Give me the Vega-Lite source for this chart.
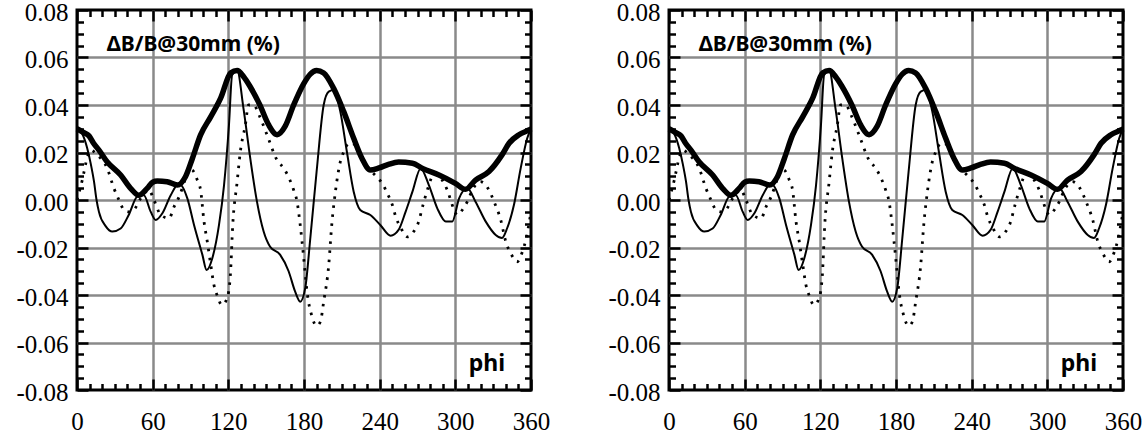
{
  "$schema": "https://vega.github.io/schema/vega-lite/v6.json",
  "padding": {"left": 14, "top": -2, "right": 5, "bottom": 2},
  "background": "white",
  "config": {
    "view": {"stroke": "black", "strokeWidth": 3},
    "concat": {"spacing": 138},
    "axis": {"labelFont": "Liberation Serif", "labelFontSize": 25, "labelColor": "black", "tickColor": "black", "tickWidth": 2.5, "gridColor": "#8a8a8a", "gridWidth": 2.5, "domain": false, "title": null, "labelOverlap": false, "labelFlush": false, "labelBound": false},
    "text": {"font": "Noto Sans"}
  },
  "bounds": "flush",
  "datasets": {
    "curves": [
      {"series": "thick", "phi": 0, "dB": 0.030},
      {"series": "thick", "phi": 5, "dB": 0.0285},
      {"series": "thick", "phi": 9.5, "dB": 0.027},
      {"series": "thick", "phi": 13, "dB": 0.024},
      {"series": "thick", "phi": 17.4, "dB": 0.021},
      {"series": "thick", "phi": 24, "dB": 0.016},
      {"series": "thick", "phi": 34.6, "dB": 0.0105},
      {"series": "thick", "phi": 42.5, "dB": 0.0049},
      {"series": "thick", "phi": 49, "dB": 0.002},
      {"series": "thick", "phi": 55.8, "dB": 0.005},
      {"series": "thick", "phi": 60, "dB": 0.0075},
      {"series": "thick", "phi": 63.7, "dB": 0.008},
      {"series": "thick", "phi": 71.4, "dB": 0.0077},
      {"series": "thick", "phi": 79.6, "dB": 0.0063},
      {"series": "thick", "phi": 86, "dB": 0.0098},
      {"series": "thick", "phi": 91.5, "dB": 0.0175},
      {"series": "thick", "phi": 98, "dB": 0.0274},
      {"series": "thick", "phi": 106, "dB": 0.035},
      {"series": "thick", "phi": 114, "dB": 0.043},
      {"series": "thick", "phi": 121.8, "dB": 0.0535},
      {"series": "thick", "phi": 127, "dB": 0.0545},
      {"series": "thick", "phi": 132, "dB": 0.052},
      {"series": "thick", "phi": 137, "dB": 0.048},
      {"series": "thick", "phi": 145, "dB": 0.040},
      {"series": "thick", "phi": 152, "dB": 0.0316},
      {"series": "thick", "phi": 158.6, "dB": 0.0275},
      {"series": "thick", "phi": 165, "dB": 0.031},
      {"series": "thick", "phi": 171.8, "dB": 0.040},
      {"series": "thick", "phi": 179.8, "dB": 0.049},
      {"series": "thick", "phi": 185, "dB": 0.053},
      {"series": "thick", "phi": 190, "dB": 0.0545},
      {"series": "thick", "phi": 195.6, "dB": 0.0535},
      {"series": "thick", "phi": 203.5, "dB": 0.047},
      {"series": "thick", "phi": 211.5, "dB": 0.0372},
      {"series": "thick", "phi": 219.4, "dB": 0.026},
      {"series": "thick", "phi": 226, "dB": 0.0175},
      {"series": "thick", "phi": 232.6, "dB": 0.0126},
      {"series": "thick", "phi": 239.5, "dB": 0.0135},
      {"series": "thick", "phi": 247, "dB": 0.015},
      {"series": "thick", "phi": 255, "dB": 0.016},
      {"series": "thick", "phi": 266, "dB": 0.0155},
      {"series": "thick", "phi": 274, "dB": 0.0133},
      {"series": "thick", "phi": 287, "dB": 0.0105},
      {"series": "thick", "phi": 300, "dB": 0.007},
      {"series": "thick", "phi": 308, "dB": 0.0045},
      {"series": "thick", "phi": 316, "dB": 0.0084},
      {"series": "thick", "phi": 326.7, "dB": 0.012},
      {"series": "thick", "phi": 337, "dB": 0.019},
      {"series": "thick", "phi": 342.6, "dB": 0.0239},
      {"series": "thick", "phi": 350.5, "dB": 0.0275},
      {"series": "thick", "phi": 358.4, "dB": 0.0295},
      {"series": "thick", "phi": 360, "dB": 0.030},

      {"series": "solid", "phi": 0, "dB": 0.030},
      {"series": "solid", "phi": 4, "dB": 0.028},
      {"series": "solid", "phi": 8, "dB": 0.022},
      {"series": "solid", "phi": 11, "dB": 0.015},
      {"series": "solid", "phi": 13.5, "dB": 0.0077},
      {"series": "solid", "phi": 15.5, "dB": 0.0},
      {"series": "solid", "phi": 17.4, "dB": -0.005},
      {"series": "solid", "phi": 22.7, "dB": -0.011},
      {"series": "solid", "phi": 28, "dB": -0.0133},
      {"series": "solid", "phi": 34.6, "dB": -0.012},
      {"series": "solid", "phi": 41, "dB": -0.0063},
      {"series": "solid", "phi": 47.8, "dB": 0.0014},
      {"series": "solid", "phi": 53, "dB": 0.002},
      {"series": "solid", "phi": 58.4, "dB": -0.0049},
      {"series": "solid", "phi": 62.4, "dB": -0.0084},
      {"series": "solid", "phi": 67.7, "dB": -0.0056},
      {"series": "solid", "phi": 74.3, "dB": 0.002},
      {"series": "solid", "phi": 80.9, "dB": 0.007},
      {"series": "solid", "phi": 87.5, "dB": 0.0007},
      {"series": "solid", "phi": 92.8, "dB": -0.0105},
      {"series": "solid", "phi": 99.4, "dB": -0.023},
      {"series": "solid", "phi": 102.8, "dB": -0.0295},
      {"series": "solid", "phi": 107.3, "dB": -0.0245},
      {"series": "solid", "phi": 112.6, "dB": -0.0105},
      {"series": "solid", "phi": 116.6, "dB": 0.0063},
      {"series": "solid", "phi": 120.5, "dB": 0.0316},
      {"series": "solid", "phi": 123, "dB": 0.0526},
      {"series": "solid", "phi": 127, "dB": 0.0545},
      {"series": "solid", "phi": 132, "dB": 0.0386},
      {"series": "solid", "phi": 137.4, "dB": 0.0175},
      {"series": "solid", "phi": 142.7, "dB": -0.0007},
      {"series": "solid", "phi": 148, "dB": -0.0133},
      {"series": "solid", "phi": 153, "dB": -0.0196},
      {"series": "solid", "phi": 161, "dB": -0.023},
      {"series": "solid", "phi": 167.8, "dB": -0.030},
      {"series": "solid", "phi": 173, "dB": -0.0386},
      {"series": "solid", "phi": 177, "dB": -0.0428},
      {"series": "solid", "phi": 181, "dB": -0.037},
      {"series": "solid", "phi": 185, "dB": -0.0161},
      {"series": "solid", "phi": 190, "dB": 0.012},
      {"series": "solid", "phi": 195.6, "dB": 0.040},
      {"series": "solid", "phi": 199.6, "dB": 0.0456},
      {"series": "solid", "phi": 203.5, "dB": 0.0463},
      {"series": "solid", "phi": 208.8, "dB": 0.0372},
      {"series": "solid", "phi": 214, "dB": 0.0203},
      {"series": "solid", "phi": 219.4, "dB": 0.0035},
      {"series": "solid", "phi": 224.6, "dB": -0.0042},
      {"series": "solid", "phi": 232.6, "dB": -0.0063},
      {"series": "solid", "phi": 240.5, "dB": -0.0105},
      {"series": "solid", "phi": 248.7, "dB": -0.015},
      {"series": "solid", "phi": 255, "dB": -0.0126},
      {"series": "solid", "phi": 260.6, "dB": -0.0049},
      {"series": "solid", "phi": 266, "dB": 0.0035},
      {"series": "solid", "phi": 272.5, "dB": 0.0133},
      {"series": "solid", "phi": 279, "dB": 0.0063},
      {"series": "solid", "phi": 285.7, "dB": -0.0035},
      {"series": "solid", "phi": 292.4, "dB": -0.009},
      {"series": "solid", "phi": 297.6, "dB": -0.009},
      {"series": "solid", "phi": 303, "dB": 0.0007},
      {"series": "solid", "phi": 309.5, "dB": 0.0049},
      {"series": "solid", "phi": 316, "dB": -0.0007},
      {"series": "solid", "phi": 324, "dB": -0.009},
      {"series": "solid", "phi": 332, "dB": -0.0147},
      {"series": "solid", "phi": 337, "dB": -0.016},
      {"series": "solid", "phi": 341, "dB": -0.012},
      {"series": "solid", "phi": 346.5, "dB": -0.002},
      {"series": "solid", "phi": 351.8, "dB": 0.0133},
      {"series": "solid", "phi": 357, "dB": 0.026},
      {"series": "solid", "phi": 360, "dB": 0.030},

      {"series": "dotted", "phi": 0, "dB": 0.0},
      {"series": "dotted", "phi": 4.2, "dB": 0.0084},
      {"series": "dotted", "phi": 8.2, "dB": 0.018},
      {"series": "dotted", "phi": 11, "dB": 0.021},
      {"series": "dotted", "phi": 16, "dB": 0.019},
      {"series": "dotted", "phi": 24, "dB": 0.0133},
      {"series": "dotted", "phi": 29.3, "dB": 0.0049},
      {"series": "dotted", "phi": 33.3, "dB": 0.0},
      {"series": "dotted", "phi": 37.3, "dB": -0.0042},
      {"series": "dotted", "phi": 41, "dB": -0.005},
      {"series": "dotted", "phi": 45, "dB": -0.0042},
      {"series": "dotted", "phi": 50.5, "dB": 0.0007},
      {"series": "dotted", "phi": 57, "dB": 0.0042},
      {"series": "dotted", "phi": 61, "dB": 0.0},
      {"series": "dotted", "phi": 66.4, "dB": -0.0063},
      {"series": "dotted", "phi": 73, "dB": -0.0077},
      {"series": "dotted", "phi": 77, "dB": -0.0028},
      {"series": "dotted", "phi": 81, "dB": 0.0014},
      {"series": "dotted", "phi": 86, "dB": 0.009},
      {"series": "dotted", "phi": 89, "dB": 0.013},
      {"series": "dotted", "phi": 91.5, "dB": 0.0126},
      {"series": "dotted", "phi": 95.4, "dB": 0.0084},
      {"series": "dotted", "phi": 98, "dB": 0.0042},
      {"series": "dotted", "phi": 100.7, "dB": -0.009},
      {"series": "dotted", "phi": 103.3, "dB": -0.0175},
      {"series": "dotted", "phi": 106, "dB": -0.027},
      {"series": "dotted", "phi": 108.6, "dB": -0.0358},
      {"series": "dotted", "phi": 111, "dB": -0.040},
      {"series": "dotted", "phi": 115, "dB": -0.0442},
      {"series": "dotted", "phi": 119, "dB": -0.0414},
      {"series": "dotted", "phi": 121.6, "dB": -0.0316},
      {"series": "dotted", "phi": 123.5, "dB": -0.0105},
      {"series": "dotted", "phi": 127, "dB": 0.0077},
      {"series": "dotted", "phi": 129.5, "dB": 0.0203},
      {"series": "dotted", "phi": 133.5, "dB": 0.0316},
      {"series": "dotted", "phi": 136, "dB": 0.040},
      {"series": "dotted", "phi": 140, "dB": 0.040},
      {"series": "dotted", "phi": 145, "dB": 0.035},
      {"series": "dotted", "phi": 150.7, "dB": 0.0274},
      {"series": "dotted", "phi": 158.6, "dB": 0.0168},
      {"series": "dotted", "phi": 164, "dB": 0.0133},
      {"series": "dotted", "phi": 171.8, "dB": 0.0042},
      {"series": "dotted", "phi": 174.5, "dB": -0.0007},
      {"series": "dotted", "phi": 177, "dB": -0.0105},
      {"series": "dotted", "phi": 179.8, "dB": -0.0246},
      {"series": "dotted", "phi": 182.4, "dB": -0.0386},
      {"series": "dotted", "phi": 186.3, "dB": -0.049},
      {"series": "dotted", "phi": 190, "dB": -0.053},
      {"series": "dotted", "phi": 193, "dB": -0.0512},
      {"series": "dotted", "phi": 195.6, "dB": -0.0428},
      {"series": "dotted", "phi": 199.6, "dB": -0.0274},
      {"series": "dotted", "phi": 202, "dB": -0.0105},
      {"series": "dotted", "phi": 204.9, "dB": 0.0035},
      {"series": "dotted", "phi": 208.8, "dB": 0.0161},
      {"series": "dotted", "phi": 211.5, "dB": 0.0203},
      {"series": "dotted", "phi": 216, "dB": 0.024},
      {"series": "dotted", "phi": 221, "dB": 0.023},
      {"series": "dotted", "phi": 226, "dB": 0.018},
      {"series": "dotted", "phi": 232, "dB": 0.013},
      {"series": "dotted", "phi": 238, "dB": 0.0095},
      {"series": "dotted", "phi": 242, "dB": 0.007},
      {"series": "dotted", "phi": 246, "dB": 0.0028},
      {"series": "dotted", "phi": 250, "dB": -0.002},
      {"series": "dotted", "phi": 252.7, "dB": -0.007},
      {"series": "dotted", "phi": 257, "dB": -0.012},
      {"series": "dotted", "phi": 262, "dB": -0.0155},
      {"series": "dotted", "phi": 267, "dB": -0.0133},
      {"series": "dotted", "phi": 271, "dB": -0.009},
      {"series": "dotted", "phi": 274, "dB": -0.0028},
      {"series": "dotted", "phi": 277.8, "dB": 0.0042},
      {"series": "dotted", "phi": 281.7, "dB": 0.0098},
      {"series": "dotted", "phi": 286, "dB": 0.011},
      {"series": "dotted", "phi": 290, "dB": 0.008},
      {"series": "dotted", "phi": 293.6, "dB": 0.0042},
      {"series": "dotted", "phi": 296.3, "dB": 0.0},
      {"series": "dotted", "phi": 299, "dB": -0.0042},
      {"series": "dotted", "phi": 301.6, "dB": -0.0063},
      {"series": "dotted", "phi": 305.5, "dB": -0.0042},
      {"series": "dotted", "phi": 309.5, "dB": -0.0007},
      {"series": "dotted", "phi": 313.5, "dB": 0.0042},
      {"series": "dotted", "phi": 320, "dB": 0.0077},
      {"series": "dotted", "phi": 326.7, "dB": 0.0042},
      {"series": "dotted", "phi": 330.7, "dB": -0.0007},
      {"series": "dotted", "phi": 336, "dB": -0.0084},
      {"series": "dotted", "phi": 340, "dB": -0.0175},
      {"series": "dotted", "phi": 344, "dB": -0.0225},
      {"series": "dotted", "phi": 349, "dB": -0.026},
      {"series": "dotted", "phi": 353, "dB": -0.022},
      {"series": "dotted", "phi": 355.8, "dB": -0.017},
      {"series": "dotted", "phi": 360, "dB": -0.005}
    ]
  },
  "hconcat": [
    {
      "width": 454,
      "height": 380,
      "resolve": {"axis": {"x": "independent", "y": "independent"}},
      "layer": [
        {
          "data": {"name": "curves"},
          "transform": [{"filter": "datum.series === 'dotted'"}],
          "mark": {"type": "line", "color": "black", "strokeWidth": 2.8, "strokeDash": [2.5, 6.5], "interpolate": "monotone"},
          "encoding": {
            "x": {"field": "phi", "type": "quantitative", "scale": {"domain": [0, 360], "nice": false, "zero": false},
              "axis": {"orient": "bottom", "values": [0,10,20,30,40,50,60,70,80,90,100,110,120,130,140,150,160,170,180,190,200,210,220,230,240,250,260,270,280,290,300,310,320,330,340,350,360],
                "grid": true, "gridOpacity": {"condition": {"test": "datum.value % 60 === 0 && datum.value > 0 && datum.value < 360", "value": 1}, "value": 0},
                "tickSize": {"condition": {"test": "datum.value % 60 === 0", "value": -11}, "value": -6.5},
                "labelFont": "Liberation Serif", "labelFontSize": 25,
                "labelExpr": "datum.value % 60 === 0 ? format(datum.value, 'd') : ''", "labelPadding": 30}},
            "y": {"field": "dB", "type": "quantitative", "scale": {"domain": [-0.08, 0.08], "nice": false, "zero": false},
              "axis": {"orient": "left", "values": [-0.08,-0.075,-0.07,-0.065,-0.06,-0.055,-0.05,-0.045,-0.04,-0.035,-0.03,-0.025,-0.02,-0.015,-0.01,-0.005,0,0.005,0.01,0.015,0.02,0.025,0.03,0.035,0.04,0.045,0.05,0.055,0.06,0.065,0.07,0.075,0.08],
                "grid": true, "gridOpacity": {"condition": {"test": "abs(datum.value*50 - round(datum.value*50)) < 0.01 && abs(datum.value) < 0.079", "value": 1}, "value": 0},
                "tickSize": {"condition": {"test": "abs(datum.value*50 - round(datum.value*50)) < 0.01", "value": -11}, "value": -6.5},
                "labelFont": "Liberation Serif", "labelFontSize": 25,
                "labelExpr": "abs(datum.value*50 - round(datum.value*50)) < 0.01 ? (datum.value < -0.001 ? '-' : '') + format(abs(datum.value), '.2f') : ''", "labelPadding": 20, "labelOffset": 2}}
          }
        },
        {
          "data": {"name": "curves"},
          "transform": [{"filter": "datum.series === 'solid'"}],
          "mark": {"type": "line", "color": "black", "strokeWidth": 2, "interpolate": "monotone"},
          "encoding": {
            "x": {"field": "phi", "type": "quantitative",
              "axis": {"orient": "top", "values": [0,10,20,30,40,50,60,70,80,90,100,110,120,130,140,150,160,170,180,190,200,210,220,230,240,250,260,270,280,290,300,310,320,330,340,350,360],
                "grid": false, "labels": false,
                "tickSize": {"condition": {"test": "datum.value % 60 === 0", "value": -11}, "value": -6.5}}},
            "y": {"field": "dB", "type": "quantitative",
              "axis": {"orient": "right", "values": [-0.08,-0.075,-0.07,-0.065,-0.06,-0.055,-0.05,-0.045,-0.04,-0.035,-0.03,-0.025,-0.02,-0.015,-0.01,-0.005,0,0.005,0.01,0.015,0.02,0.025,0.03,0.035,0.04,0.045,0.05,0.055,0.06,0.065,0.07,0.075,0.08],
                "grid": false, "labels": false,
                "tickSize": {"condition": {"test": "abs(datum.value*50 - round(datum.value*50)) < 0.01", "value": -11}, "value": -6.5}}}
          }
        },
        {
          "data": {"name": "curves"},
          "transform": [{"filter": "datum.series === 'thick'"}],
          "mark": {"type": "line", "color": "black", "strokeWidth": 5.5, "interpolate": "monotone"},
          "encoding": {
            "x": {"field": "phi", "type": "quantitative", "axis": null},
            "y": {"field": "dB", "type": "quantitative", "axis": null}
          }
        },
        {
          "data": {"values": [{}]},
          "mark": {"type": "text", "text": "ΔB/B@30mm (%)", "font": "Noto Sans", "fontWeight": "bold", "fontSize": 21, "align": "left", "baseline": "alphabetic", "color": "black"},
          "encoding": {
            "x": {"datum": 23.5, "type": "quantitative", "axis": null},
            "y": {"datum": 0.0627, "type": "quantitative", "axis": null}
          }
        },
        {
          "data": {"values": [{}]},
          "mark": {"type": "text", "text": "phi", "font": "Noto Sans", "fontWeight": "bold", "fontSize": 23, "align": "right", "baseline": "alphabetic", "color": "black"},
          "encoding": {
            "x": {"datum": 339.5, "type": "quantitative", "axis": null},
            "y": {"datum": -0.072, "type": "quantitative", "axis": null}
          }
        }
      ]
    },
    {
      "width": 454,
      "height": 380,
      "resolve": {"axis": {"x": "independent", "y": "independent"}},
      "layer": [
        {
          "data": {"name": "curves"},
          "transform": [{"filter": "datum.series === 'dotted'"}],
          "mark": {"type": "line", "color": "black", "strokeWidth": 2.8, "strokeDash": [2.5, 6.5], "interpolate": "monotone"},
          "encoding": {
            "x": {"field": "phi", "type": "quantitative", "scale": {"domain": [0, 360], "nice": false, "zero": false},
              "axis": {"orient": "bottom", "values": [0,10,20,30,40,50,60,70,80,90,100,110,120,130,140,150,160,170,180,190,200,210,220,230,240,250,260,270,280,290,300,310,320,330,340,350,360],
                "grid": true, "gridOpacity": {"condition": {"test": "datum.value % 60 === 0 && datum.value > 0 && datum.value < 360", "value": 1}, "value": 0},
                "tickSize": {"condition": {"test": "datum.value % 60 === 0", "value": -11}, "value": -6.5},
                "labelFont": "Liberation Serif", "labelFontSize": 25,
                "labelExpr": "datum.value % 60 === 0 ? format(datum.value, 'd') : ''", "labelPadding": 30}},
            "y": {"field": "dB", "type": "quantitative", "scale": {"domain": [-0.08, 0.08], "nice": false, "zero": false},
              "axis": {"orient": "left", "values": [-0.08,-0.075,-0.07,-0.065,-0.06,-0.055,-0.05,-0.045,-0.04,-0.035,-0.03,-0.025,-0.02,-0.015,-0.01,-0.005,0,0.005,0.01,0.015,0.02,0.025,0.03,0.035,0.04,0.045,0.05,0.055,0.06,0.065,0.07,0.075,0.08],
                "grid": true, "gridOpacity": {"condition": {"test": "abs(datum.value*50 - round(datum.value*50)) < 0.01 && abs(datum.value) < 0.079", "value": 1}, "value": 0},
                "tickSize": {"condition": {"test": "abs(datum.value*50 - round(datum.value*50)) < 0.01", "value": -11}, "value": -6.5},
                "labelFont": "Liberation Serif", "labelFontSize": 25,
                "labelExpr": "abs(datum.value*50 - round(datum.value*50)) < 0.01 ? (datum.value < -0.001 ? '-' : '') + format(abs(datum.value), '.2f') : ''", "labelPadding": 20, "labelOffset": 2}}
          }
        },
        {
          "data": {"name": "curves"},
          "transform": [{"filter": "datum.series === 'solid'"}],
          "mark": {"type": "line", "color": "black", "strokeWidth": 2, "interpolate": "monotone"},
          "encoding": {
            "x": {"field": "phi", "type": "quantitative",
              "axis": {"orient": "top", "values": [0,10,20,30,40,50,60,70,80,90,100,110,120,130,140,150,160,170,180,190,200,210,220,230,240,250,260,270,280,290,300,310,320,330,340,350,360],
                "grid": false, "labels": false,
                "tickSize": {"condition": {"test": "datum.value % 60 === 0", "value": -11}, "value": -6.5}}},
            "y": {"field": "dB", "type": "quantitative",
              "axis": {"orient": "right", "values": [-0.08,-0.075,-0.07,-0.065,-0.06,-0.055,-0.05,-0.045,-0.04,-0.035,-0.03,-0.025,-0.02,-0.015,-0.01,-0.005,0,0.005,0.01,0.015,0.02,0.025,0.03,0.035,0.04,0.045,0.05,0.055,0.06,0.065,0.07,0.075,0.08],
                "grid": false, "labels": false,
                "tickSize": {"condition": {"test": "abs(datum.value*50 - round(datum.value*50)) < 0.01", "value": -11}, "value": -6.5}}}
          }
        },
        {
          "data": {"name": "curves"},
          "transform": [{"filter": "datum.series === 'thick'"}],
          "mark": {"type": "line", "color": "black", "strokeWidth": 5.5, "interpolate": "monotone"},
          "encoding": {
            "x": {"field": "phi", "type": "quantitative", "axis": null},
            "y": {"field": "dB", "type": "quantitative", "axis": null}
          }
        },
        {
          "data": {"values": [{}]},
          "mark": {"type": "text", "text": "ΔB/B@30mm (%)", "font": "Noto Sans", "fontWeight": "bold", "fontSize": 21, "align": "left", "baseline": "alphabetic", "color": "black"},
          "encoding": {
            "x": {"datum": 23.5, "type": "quantitative", "axis": null},
            "y": {"datum": 0.0627, "type": "quantitative", "axis": null}
          }
        },
        {
          "data": {"values": [{}]},
          "mark": {"type": "text", "text": "phi", "font": "Noto Sans", "fontWeight": "bold", "fontSize": 23, "align": "right", "baseline": "alphabetic", "color": "black"},
          "encoding": {
            "x": {"datum": 339.5, "type": "quantitative", "axis": null},
            "y": {"datum": -0.072, "type": "quantitative", "axis": null}
          }
        }
      ]
    }
  ]
}
